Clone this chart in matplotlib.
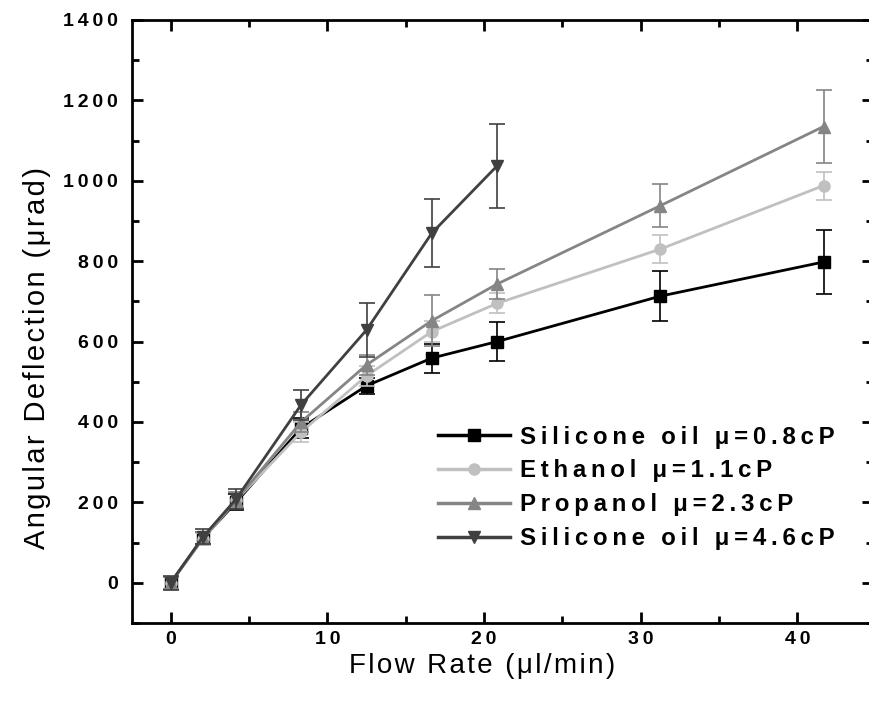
import matplotlib
matplotlib.use("Agg")
import matplotlib.pyplot as plt
from matplotlib.lines import Line2D
from matplotlib.ticker import MultipleLocator, FuncFormatter

plt.rcParams['font.family'] = ['Liberation Sans', 'DejaVu Sans']
plt.rcParams['font.weight'] = 'bold'

# flow rate (ul/min)
flow = [0, 2.08, 4.17, 8.33, 12.5, 16.67, 20.83, 31.25, 41.67]
flow_si46 = flow[:7]

# angular deflection (urad) and error bars
si08 = [0, 112, 200, 385, 490, 559, 600, 713, 798]
si08_err = [15, 15, 20, 25, 20, 36, 49, 62, 80]
eth11 = [0, 110, 205, 375, 515, 625, 695, 830, 988]
eth11_err = [15, 15, 20, 25, 25, 25, 25, 35, 35]
prop23 = [0, 112, 205, 400, 542, 652, 743, 938, 1135]
prop23_err = [15, 15, 20, 25, 25, 63, 37, 53, 90]
si46 = [0, 115, 208, 443, 629, 870, 1037]
si46_err = [18, 18, 25, 37, 68, 85, 105]

labels = ['Silicone oil \u03bc=0.8cP', 'Ethanol \u03bc=1.1cP',
          'Propanol \u03bc=2.3cP', 'Silicone oil \u03bc=4.6cP']
colors = ['#000000', '#c0c0c0', '#858585', '#404040']
markers = ['s', 'o', '^', 'v']


def spaced(s, sp='\u2009'):
    # fake the wide letter spacing of the original
    return sp.join(s)


fig = plt.figure(figsize=(8.7, 7.06), dpi=100)
ax = fig.add_axes([0.1517, 0.1176, 1.003 - 0.1517, 0.9717 - 0.1176])

series = [(flow, si08, si08_err), (flow, eth11, eth11_err),
          (flow, prop23, prop23_err), (flow_si46, si46, si46_err)]
for i, (x, y, e) in enumerate(series):
    ax.errorbar(x, y, yerr=e, color=colors[i], marker=markers[i],
                markersize=8, linewidth=2, elinewidth=1.2, capsize=6,
                capthick=1.2, zorder=3 + i)

ax.set_xlim(-2.47, 44.8)
ax.set_ylim(-100, 1400)
ax.xaxis.set_major_locator(MultipleLocator(10))
ax.xaxis.set_minor_locator(MultipleLocator(5))
ax.yaxis.set_major_locator(MultipleLocator(200))
ax.yaxis.set_minor_locator(MultipleLocator(100))
fmt = FuncFormatter(lambda v, p: spaced('%d' % v))
ax.xaxis.set_major_formatter(fmt)
ax.yaxis.set_major_formatter(fmt)
ax.tick_params(which='both', direction='in', top=True, right=True,
               width=2, labelsize=14, pad=10)
ax.tick_params(axis='x', pad=6)
ax.tick_params(which='major', length=8)
ax.tick_params(which='minor', length=5)
for s in ax.spines.values():
    s.set_linewidth(2)
for t in ax.get_xticklabels() + ax.get_yticklabels():
    t.set_fontweight('bold')

ax.set_xlabel(spaced('Flow Rate (\u03bcl/min)', '\u200a'), fontsize=20,
              fontweight='normal')
ax.set_ylabel(spaced('Angular Deflection (\u03bcrad)', '\u200a'), fontsize=21,
              fontweight='normal')
ax.xaxis.set_label_coords(0.473, -0.05)
ax.yaxis.set_label_coords(-0.11, 0.44)

handles = [Line2D([], [], color=colors[i], marker=markers[i], markersize=8,
                  linewidth=2.5) for i in range(4)]
leg = ax.legend(handles, [spaced(l) for l in labels], loc='lower left',
                bbox_to_anchor=(0.40, 0.105), frameon=False,
                prop={'size': 17.3, 'weight': 'bold'}, handlelength=3.0,
                handletextpad=0.4, labelspacing=0.45, borderaxespad=0)

fig.savefig('out.png', dpi=100)
